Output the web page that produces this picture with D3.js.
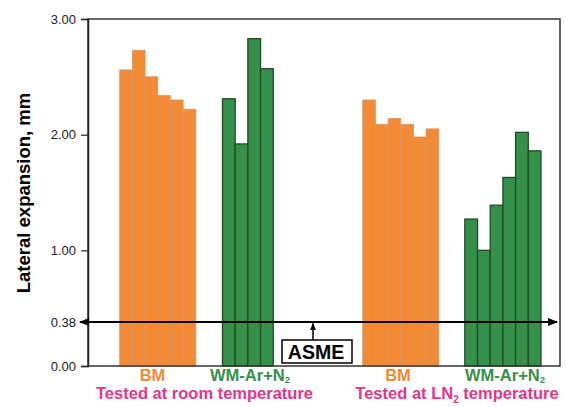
<!DOCTYPE html>
<html><head><meta charset="utf-8">
<script src="https://cdn.jsdelivr.net/npm/d3@7"></script>
<style>body{margin:0;background:#fff}svg{display:block}text{font-family:"Liberation Sans",Arial,sans-serif}</style>
</head><body>
<script>
// ---- data ----
const groups = ["BM (RT)", "WM-Ar+N2 (RT)", "BM (LN2)", "WM-Ar+N2 (LN2)"];
const bmRoom = [2.56, 2.73, 2.50, 2.34, 2.30, 2.22];
const wmRoom = [2.31, 1.92, 2.83, 2.57];
const bmLN2 = [2.30, 2.09, 2.14, 2.09, 1.98, 2.05];
const wmLN2 = [1.27, 1.00, 1.39, 1.63, 2.02, 1.86];
const yTicks = [0.00, 0.38, 1.00, 2.00, 3.00];
const asmeValue = 0.38;
const yTitle = "Lateral expansion, mm";

// ---- layout ----
const W = 566, H = 407;
const m = {l: 88, r: 6, t: 19, b: 41};
const svg = d3.select("body").append("svg").attr("width", W).attr("height", H);
const y = d3.scaleLinear().domain([0, 3]).range([H - m.b, m.t]);
const x = d3.scaleLinear().domain([0, 37.2]).range([m.l, W - m.r]);
const groupStart = [2.5, 10.6, 21.65, 29.7];
const series = [bmRoom, wmRoom, bmLN2, wmLN2];
const kinds = ["bm", "wm", "bm", "wm"];
const fill = {bm: "#F28A36", wm: "#35904A"};
const stroke = {bm: "#D89868", wm: "#1E4A25"};
const bw = x(1) - x(0);

series.forEach((vals, gi) => {
  svg.append("g").selectAll("rect").data(vals).join("rect")
    .attr("x", (d, i) => x(groupStart[gi] + i))
    .attr("y", d => y(d))
    .attr("width", bw)
    .attr("height", d => y(0) - y(d))
    .attr("fill", fill[kinds[gi]])
    .attr("stroke", stroke[kinds[gi]])
    .attr("stroke-width", kinds[gi] === "wm" ? 1.3 : 0.8);
});

// frame
svg.append("rect").attr("x", m.l).attr("y", m.t).attr("width", W - m.r - m.l).attr("height", y(0) - m.t)
  .attr("fill", "none").attr("stroke", "#333").attr("stroke-width", 1.5);

// y axis
const ax = svg.append("g").attr("transform", `translate(${m.l},0)`)
  .call(d3.axisLeft(y).tickValues(yTicks).tickFormat(d3.format(".2f")).tickSize(7).tickPadding(5));
ax.select(".domain").attr("stroke", "#222").attr("stroke-width", 1.5);
ax.selectAll(".tick line").attr("stroke", "#222").attr("stroke-width", 1.2);
ax.selectAll(".tick text").attr("font-size", 13).attr("fill", "#222").attr("font-family", "Liberation Sans, Arial, sans-serif");

svg.append("text").attr("transform", `translate(30,193) rotate(-90)`)
  .attr("text-anchor", "middle").attr("font-size", 18.5).attr("font-weight", "bold").attr("fill", "#000")
  .text(yTitle);

// ASME line with arrows
const defs = svg.append("defs");
defs.append("marker").attr("id", "ah").attr("viewBox", "0 0 10 10").attr("refX", 9).attr("refY", 5)
  .attr("markerWidth", 5).attr("markerHeight", 5).attr("orient", "auto-start-reverse")
  .append("path").attr("d", "M0,1 L10,5 L0,9 Z").attr("fill", "#000");
const ly = y(asmeValue);
svg.append("line").attr("x1", 80).attr("x2", 557).attr("y1", ly).attr("y2", ly)
  .attr("stroke", "#000").attr("stroke-width", 2)
  .attr("marker-start", "url(#ah)").attr("marker-end", "url(#ah)");
svg.append("line").attr("x1", 313).attr("x2", 313).attr("y1", 340).attr("y2", ly + 1.5)
  .attr("stroke", "#000").attr("stroke-width", 1.5).attr("marker-end", "url(#ah)");
svg.append("rect").attr("x", 282).attr("y", 340).attr("width", 70).attr("height", 23)
  .attr("fill", "#fff").attr("stroke", "#000").attr("stroke-width", 1.5);
svg.append("text").attr("x", 316).attr("y", 359).attr("text-anchor", "middle")
  .attr("font-size", 19.5).attr("font-weight", "bold").text("ASME");

// group labels
const lab = svg.append("g").attr("font-weight", "bold").attr("font-size", 16.5);
const bmC = [152.5, 398], wmC = [250, 505];
bmC.forEach(c => lab.append("text").attr("x", c).attr("y", 381).attr("text-anchor", "middle")
  .attr("fill", fill.bm).text("BM"));
wmC.forEach(c => {
  const t = lab.append("text").attr("x", c).attr("y", 381).attr("text-anchor", "middle").attr("fill", fill.wm);
  t.append("tspan").text("WM-Ar+N");
  t.append("tspan").attr("font-size", 9.5).attr("dy", 2).text("2");
});
const pink = "#E9338A";
lab.append("text").attr("x", 204.5).attr("y", 398.5).attr("text-anchor", "middle").attr("fill", pink)
  .text("Tested at room temperature");
const t2 = lab.append("text").attr("x", 457).attr("y", 398.5).attr("text-anchor", "middle").attr("fill", pink);
t2.append("tspan").text("Tested at LN");
t2.append("tspan").attr("font-size", 10).attr("dy", 4).text("2");
t2.append("tspan").attr("dy", -4).text(" temperature");
</script>
</body></html>
